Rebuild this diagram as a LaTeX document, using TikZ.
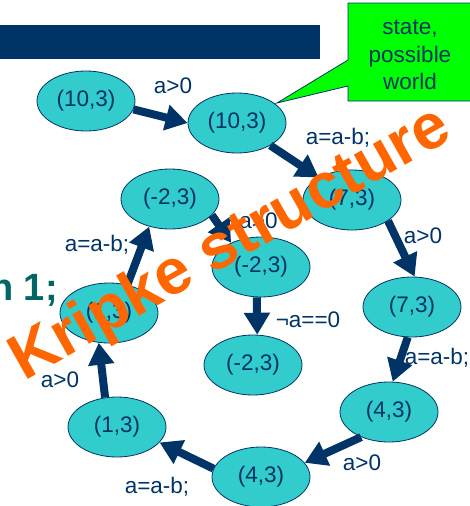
\documentclass[tikz,border=0pt]{standalone}
\usepackage{fontspec}
\setmainfont{Liberation Sans}
\usetikzlibrary{arrows.meta,shapes.geometric}
\definecolor{SlideNavy}{HTML}{003366}
\definecolor{StateTeal}{HTML}{33CCCC}
\definecolor{CalloutGreen}{HTML}{00FF00}
\definecolor{KripkeOrange}{HTML}{FF6600}
\definecolor{TitleTeal}{HTML}{006666}

\begin{document}
\begin{tikzpicture}[
    x=1pt, y=-1pt,
    font=\fontsize{22.5}{27.5}\selectfont,
    text=SlideNavy,
    state/.style={
      ellipse,
      draw=SlideNavy,
      fill=StateTeal,
      line width=0.8pt,
      inner sep=0pt,
      minimum width=98pt,
      minimum height=60pt
    },
    lbl/.style={inner sep=0pt},
    arrow/.style={-{Triangle[length=22pt,width=25pt]}, line width=8pt, draw=SlideNavy}
  ]
  \useasboundingbox (0,0) rectangle (470,506);
  \clip (0,0) rectangle (470,506);
  % slide title pieces
  \fill[SlideNavy] (0,25) rectangle (320,59);
  \node[anchor=base east, inner sep=0pt, text=TitleTeal,
    font=\fontsize{38}{40}\selectfont\bfseries] (title) at (58,300) {n 1;};
  % callout
  \draw[SlideNavy, fill=CalloutGreen, line width=0.8pt]
    (348,3) -- (476,3) -- (476,101) -- (348,101) -- (348,86) -- (277,103) -- (348,60) -- cycle;
  \node[align=center, lbl] (note) at (410,55) {state,\\possible\\world};

  % states
  \node[state] (s1) at (86,101) {(10,3)};
  \node[state] (s2) at (237,123) {(10,3)};
  \node[state] (s3) at (352,200) {(7,3)};
  \node[state] (s4) at (412,307) {(7,3)};
  \node[state] (s5) at (389,412) {(4,3)};
  \node[state] (s6) at (261,477) {(4,3)};
  \node[state] (s7) at (117,427) {(1,3)};
  \node[state] (s8) at (109,313) {(1,3)};
  \node[state] (s9) at (170,199) {(-2,3)};
  \node[state] (s10) at (261,267) {(-2,3)};
  \node[state] (s11) at (253,365) {(-2,3)};

  % transition labels
  \node[lbl] (t1) at (173,86) {a>0};
  \node[lbl] (t2) at (338,138) {a=a-b;};
  \node[lbl] (t3) at (423,236) {a>0};
  \node[lbl] (t4) at (437,358) {a=a-b;};
  \node[lbl] (t5) at (362,463) {a>0};
  \node[lbl] (t6) at (157,487) {a=a-b;};
  \node[lbl] (t7) at (60,380) {a>0};
  \node[lbl] (t8) at (97,245) {a=a-b;};
  \node[lbl] (t9) at (252,221) {¬a>0};
  \node[lbl] (t10) at (308,320) {¬a==0};

  % transitions
  \draw[arrow] (s1.-10) -- (s2.west);
  \draw[arrow] (s2.-34) -- (s3.146);
  \draw[arrow] (s3.-30) -- (s4.85);
  \draw[arrow] (s4.-98) -- (s5.83);
  \draw[arrow] (s5.-138) -- (s6.18);
  \draw[arrow] (s6.170) -- (s7.-20);
  \draw[arrow] (s7.112) -- (s8.-109);
  \draw[arrow] (s8.57) -- (s9.-127);
  \draw[arrow] (s9.-21) -- (s10.141);
  \draw[arrow] (s10.-98) -- (s11.82);

  % overlay
  \node[rotate=29.5, inner sep=0pt, text=KripkeOrange,
    font=\fontsize{64}{66}\selectfont\bfseries] (kripke) at (231,245) {Kripke structure};
\end{tikzpicture}
\end{document}
